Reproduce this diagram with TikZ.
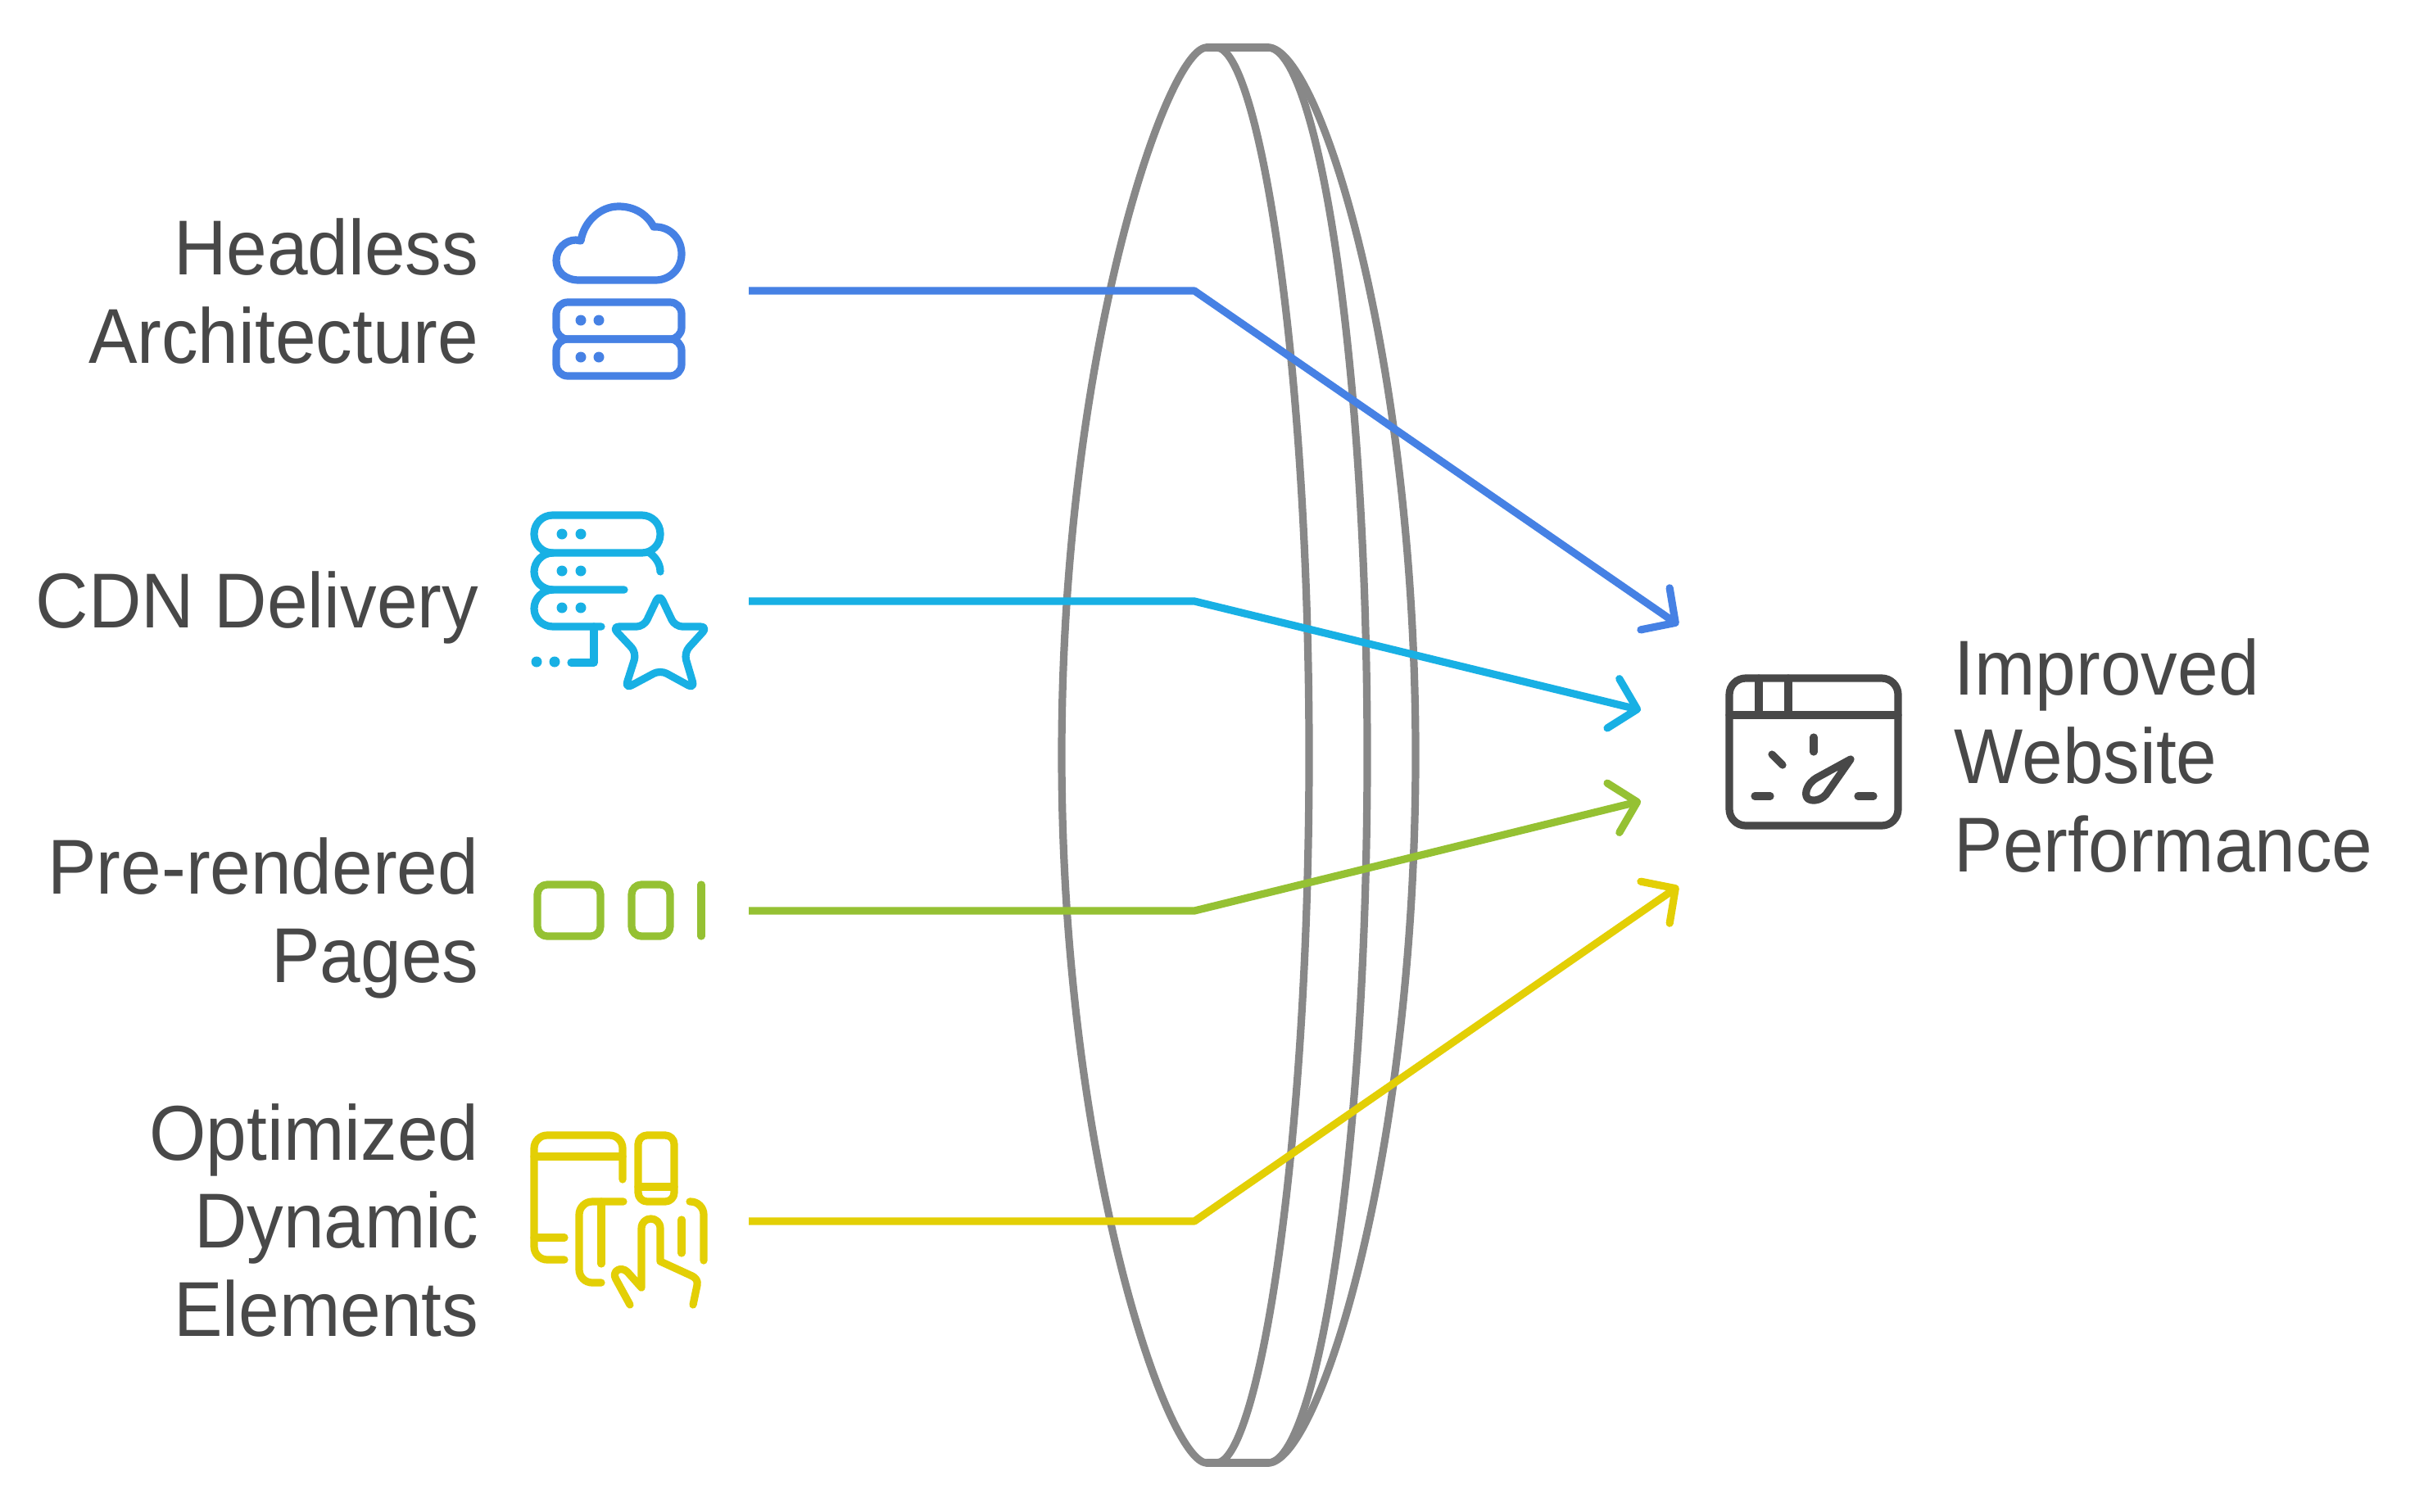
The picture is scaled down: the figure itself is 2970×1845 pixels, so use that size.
\documentclass[tikz,border=0pt]{standalone}
\usepackage{fontspec}
\usepackage{xcolor}
\usepackage{tikz}
\usetikzlibrary {arrows.meta}
\setmainfont[FakeStretch=0.94]{Liberation Sans}
\definecolor{lensgray}{HTML}{888888}
\definecolor{textgray}{HTML}{484848}
\definecolor{headlessblue}{HTML}{4681E4}
\definecolor{cdncyan}{HTML}{18B0E4}
\definecolor{pagesgreen}{HTML}{95C133}
\definecolor{dynamicyellow}{HTML}{E3CF05}
\tikzset{
  iconline/.style = {line width=0.092cm, line cap=round, line join=round},
  flowline/.style = {line width=0.092cm, line join=round, -{Straight Barb[length=0.30cm,width=0.62cm,round]}},
  lbl/.style = {inner sep=0pt, text=textgray, font=\fontsize{27}{30.7}\selectfont},
}

\begin{document}
\begin{tikzpicture}[x=0.01cm,y=-0.01cm]
\useasboundingbox (0,0) rectangle (2970,1845);

% lens
\draw[iconline,lensgray] (1473,58) -- (1548,58);
\draw[iconline,lensgray] (1473,1786) -- (1548,1786);
\draw[iconline,lensgray] (1473,58) .. controls (1425,58) and (1296,430) .. (1296,922) .. controls (1296,1414) and (1425,1786) .. (1473,1786);
\draw[iconline,lensgray] (1485,58) .. controls (1535,58) and (1598,430) .. (1598,922) .. controls (1598,1414) and (1535,1786) .. (1485,1786);
\draw[iconline,lensgray] (1548,58) .. controls (1607,58) and (1669,430) .. (1669,922) .. controls (1669,1414) and (1607,1786) .. (1548,1786);
\draw[iconline,lensgray] (1548,58) .. controls (1609,58) and (1728,430) .. (1728,922) .. controls (1728,1414) and (1609,1786) .. (1548,1786);

% labels
\node (headless) at (585,356) [lbl,anchor=east,align=right]{Headless\\Architecture};
\node (cdn) at (585,742) [lbl,anchor=east,align=right]{CDN Delivery};
\node (prerendered) at (585,1121) [lbl,anchor=east,align=right]{Pre-rendered\\Pages};
\node (dynamic) at (585,1490) [lbl,anchor=east,align=right]{Optimized\\Dynamic\\Elements};
\node (improved) at (2385,923) [lbl,anchor=west,align=left]{Improved\\Website\\Performance};

% cloud and servers
\draw[iconline,headlessblue] (707,342) .. controls (690,342) and (679,332) .. (679,318) .. controls (679,304) and (690,293) .. (703,293) -- (709,294) .. controls (713,270) and (733,252) .. (755,252) .. controls (775,252) and (790,262) .. (798,277) -- (802,277) .. controls (819,278) and (832,292) .. (832,310) .. controls (832,328) and (818,342) .. (800,342) -- cycle;
\draw[iconline,headlessblue,rounded corners=0.14cm] (679,369) rectangle (832,414);
\draw[iconline,headlessblue,rounded corners=0.14cm] (679,414) rectangle (832,459);
\fill[headlessblue] (709,391) circle (0.065cm) (731,391) circle (0.065cm) (709,436) circle (0.065cm) (731,436) circle (0.065cm);

% cdn stack and star
\draw[iconline,cdncyan,rounded corners=0.225cm] (652,629) rectangle (806,675);
\draw[iconline,cdncyan] (793,675) .. controls (800,680) and (806,688) .. (806,698);
\draw[iconline,cdncyan] (762,720) -- (675,720) .. controls (662,720) and (652,710) .. (652,698) .. controls (652,686) and (662,675) .. (675,675);
\draw[iconline,cdncyan] (734,765) -- (675,765) .. controls (662,765) and (652,755) .. (652,743) .. controls (652,731) and (662,720) .. (675,720);
\draw[iconline,cdncyan] (725,765) -- (725,809) -- (697,809);
\fill[cdncyan] (686,652) circle (0.065cm) (709,652) circle (0.065cm) (686,697) circle (0.065cm) (709,697) circle (0.065cm) (686,742) circle (0.065cm) (709,742) circle (0.065cm) (655,808) circle (0.065cm) (677,808) circle (0.065cm);
\draw[iconline,cdncyan,rounded corners=0.09cm] (805,725) -- (824,765) -- (864,765) -- (835,797) -- (848,841) -- (806,818) -- (763,841) -- (777,797) -- (747,765) -- (786,765) -- cycle;

% pages
\draw[iconline,pagesgreen,rounded corners=0.12cm] (656,1080) rectangle (733,1143);
\draw[iconline,pagesgreen,rounded corners=0.12cm] (771,1080) rectangle (818,1143);
\draw[iconline,pagesgreen] (856,1080) -- (856,1143);

% devices and hand
\draw[iconline,dynamicyellow,rounded corners=0.16cm] (760,1440) -- (760,1386) -- (652,1386) -- (652,1538) -- (689,1538);
\draw[iconline,dynamicyellow] (652,1412) -- (760,1412);
\draw[iconline,dynamicyellow] (652,1511) -- (689,1511);
\draw[iconline,dynamicyellow,rounded corners=0.11cm] (779,1386) rectangle (823,1467);
\draw[iconline,dynamicyellow] (779,1449) -- (823,1449);
\draw[iconline,dynamicyellow,rounded corners=0.16cm] (761,1467) -- (707,1467) -- (707,1566) -- (734,1566);
\draw[iconline,dynamicyellow] (734,1467) -- (734,1543);
\draw[iconline,dynamicyellow,rounded corners=0.16cm] (842,1467) -- (859,1467) -- (859,1539);
\draw[iconline,dynamicyellow] (832,1489) -- (832,1530);
\draw[iconline,dynamicyellow] (769,1593) -- (752,1562) .. controls (746,1552) and (758,1545) .. (766,1553) -- (783,1572) -- (783,1500) .. controls (783,1484) and (806,1484) .. (806,1500) -- (806,1540) -- (843,1557) .. controls (850,1560) and (852,1564) .. (851,1569) -- (846,1593);

% improved performance window
\draw[iconline,textgray,rounded corners=0.2cm] (2111,828) rectangle (2317,1008);
\draw[iconline,textgray] (2111,873) -- (2317,873);
\draw[iconline,textgray] (2147,828) -- (2147,873);
\draw[iconline,textgray] (2183,828) -- (2183,873);
\draw[iconline,textgray] (2214,900) -- (2214,918);
\draw[iconline,textgray] (2163,921) -- (2176,934);
\draw[iconline,textgray] (2142,972) -- (2161,972);
\draw[iconline,textgray] (2268,972) -- (2287,972);
\draw[iconline,textgray] (2259,927) -- (2217,950) .. controls (2207,956) and (2202,968) .. (2206,974) .. controls (2210,979) and (2222,978) .. (2229,970) -- cycle;

% connectors
\coordinate (srcheadless) at (914,355);
\coordinate (bendheadless) at (1458,355);
\coordinate (tipheadless) at (2049,763);
\coordinate (srccdn) at (914,734);
\coordinate (bendcdn) at (1458,734);
\coordinate (tipcdn) at (2003,867);
\coordinate (srcpages) at (914,1112);
\coordinate (bendpages) at (1458,1112);
\coordinate (tippages) at (2003,978);
\coordinate (srcdynamic) at (914,1491);
\coordinate (benddynamic) at (1458,1491);
\coordinate (tipdynamic) at (2049,1082);
\draw[flowline,headlessblue] (srcheadless) -- (bendheadless) -- (tipheadless);
\draw[flowline,cdncyan] (srccdn) -- (bendcdn) -- (tipcdn);
\draw[flowline,pagesgreen] (srcpages) -- (bendpages) -- (tippages);
\draw[flowline,dynamicyellow] (srcdynamic) -- (benddynamic) -- (tipdynamic);

\end{tikzpicture}
\end{document}
